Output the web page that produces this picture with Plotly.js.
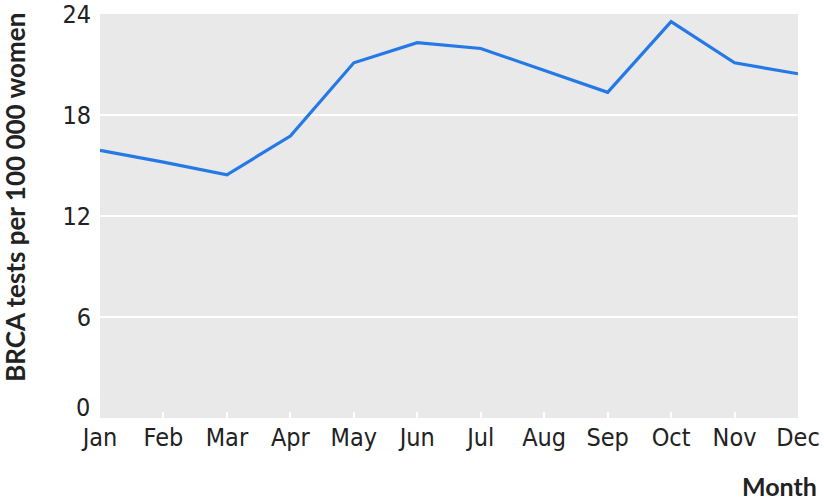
<!DOCTYPE html>
<html>
<head>
<meta charset="utf-8">
<script src="https://cdn.plot.ly/plotly-3.0.1.min.js"></script>
<style>
  html, body { margin: 0; padding: 0; background: #fff; }
  #plot { width: 824px; height: 504px; }
</style>
</head>
<body>
<div id="plot"></div>
<script>
// Months on the x axis
var months = ["Jan", "Feb", "Mar", "Apr", "May", "Jun", "Jul", "Aug", "Sep", "Oct", "Nov", "Dec"];
// BRCA tests per 100 000 women
var testRate = [15.9, 15.2, 14.45, 16.75, 21.1, 22.3, 21.95, 20.65, 19.35, 23.55, 21.1, 20.45];
// y axis ticks (0 is drawn separately, lifted above Jan)
var yTicks = [6, 12, 18, 24];
var yZero = 0;

var labelFont = "'Liberation Sans Narrow', 'DejaVu Sans Condensed', Lato, sans-serif";
var titleFont = "Lato, 'Open Sans', sans-serif";

var trace = {
  x: months,
  y: testRate,
  type: "scatter",
  mode: "lines",
  line: { color: "rgb(36,121,230)", width: 3.2 },
  hoverinfo: "x+y"
};

var layout = {
  width: 824,
  height: 504,
  margin: { l: 100, r: 26, t: 14, b: 86 },
  paper_bgcolor: "#ffffff",
  plot_bgcolor: "#e9e9e9",
  font: { family: labelFont, color: "#222222" },
  showlegend: false,
  xaxis: {
    type: "category",
    range: [0, 11],
    showgrid: false,
    zeroline: false,
    showline: false,
    ticks: "inside",
    ticklen: 6,
    tickwidth: 2,
    tickcolor: "#ffffff",
    tickfont: { size: 25, color: "#222222" },
    ticklabelstandoff: 2,
    ticklabeloverflow: "allow"
  },
  yaxis: {
    range: [0, 24],
    tickvals: yTicks,
    ticktext: yTicks.map(String),
    showgrid: true,
    gridcolor: "#ffffff",
    gridwidth: 2,
    zeroline: false,
    showline: false,
    ticks: "",
    tickfont: { size: 25, color: "#222222" },
    ticklabelstandoff: 8,
    ticklabeloverflow: "allow"
  },
  annotations: [
    {
      text: String(yZero),
      xref: "paper", yref: "y",
      x: 0, y: yZero,
      xanchor: "right", yanchor: "bottom",
      xshift: -8, yshift: -6,
      showarrow: false,
      font: { family: labelFont, size: 25, color: "#222222" }
    },
    {
      text: "<b>BRCA tests per 100 000 women</b>",
      xref: "paper", yref: "paper",
      x: -0.122, y: 0.547,
      xanchor: "center", yanchor: "middle",
      textangle: -90,
      showarrow: false,
      font: { family: titleFont, size: 26, color: "#222222" }
    },
    {
      text: "<b>Month</b>",
      xref: "paper", yref: "paper",
      x: 1.03, y: -0.168,
      xanchor: "right", yanchor: "middle",
      showarrow: false,
      font: { family: titleFont, size: 25, color: "#222222" }
    }
  ]
};

Plotly.newPlot("plot", [trace], layout, { displayModeBar: false, staticPlot: true });
</script>
</body>
</html>
